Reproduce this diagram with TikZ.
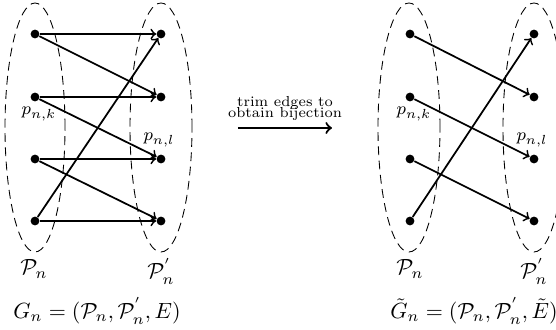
\documentclass[tikz,border=0pt]{standalone}
\usetikzlibrary{positioning}

\begin{document}
\begin{tikzpicture}[
  x=0.455pt, y=0.455pt,
  vx/.style={circle, fill=black, inner sep=0pt, minimum size=4pt},
  part/.style={draw, thin, dash pattern=on 4pt off 2.5pt},
  ed/.style={->, thick},
]
\useasboundingbox (0,0) rectangle (556,330);
% ---- LEFT: G_n with all edges ----
\draw[part] (35,202.5) ellipse [x radius=30, y radius=124.5];
\draw[part] (161,202.5) ellipse [x radius=31, y radius=124.5];
\node[vx] (a1) at (35,296) {};
\node[vx] (a2) at (35,233) {};
\node[vx] (a3) at (35,171) {};
\node[vx] (a4) at (35,109) {};
\node[vx] (b1) at (161,296) {};
\node[vx] (b2) at (161,233) {};
\node[vx] (b3) at (161,171) {};
\node[vx] (b4) at (161,109) {};
\draw[ed] (a1)--(b1); \draw[ed] (a1)--(b2);
\draw[ed] (a2)--(b2); \draw[ed] (a2)--(b3);
\draw[ed] (a3)--(b3); \draw[ed] (a3)--(b4);
\draw[ed] (a4)--(b4); \draw[ed] (a4)--(b1);
\node[font=\footnotesize] (ak) at (39,216) {$p_{n,k}$};
\node[font=\footnotesize] (bl) at (159,190) {$p_{n,l}$};
\node (pa) at (34,61) {$\mathcal{P}_n$};
\node (pb) at (161,59) {$\mathcal{P}_n^{'}$};
\node (ga) at (97,19) {$G_n=(\mathcal{P}_n,\mathcal{P}_n^{'},E)$};

% ---- MIDDLE: trimming step ----
\coordinate (ms) at (238,202);
\coordinate (me) at (332,202);
\draw[->, line width=1pt] (ms) -- node[font=\fontsize{6.6}{7.5}\selectfont, align=center, above=2pt, inner sep=1pt] (mt)
  {trim edges to\\[-2.5pt] obtain bijection} (me);

% ---- RIGHT: trimmed G_n ----
\draw[part] (409,202.5) ellipse [x radius=31, y radius=124.5];
\draw[part] (534,202.5) ellipse [x radius=31, y radius=124.5];
\node[vx] (c1) at (410,296) {};
\node[vx] (c2) at (410,233) {};
\node[vx] (c3) at (410,171) {};
\node[vx] (c4) at (410,109) {};
\node[vx] (d1) at (534,296) {};
\node[vx] (d2) at (534,233) {};
\node[vx] (d3) at (534,171) {};
\node[vx] (d4) at (534,109) {};
\draw[ed] (c1)--(d2); \draw[ed] (c2)--(d3);
\draw[ed] (c3)--(d4); \draw[ed] (c4)--(d1);
\node[font=\footnotesize] (ck) at (414,216) {$p_{n,k}$};
\node[font=\footnotesize] (dl) at (532,190) {$p_{n,l}$};
\node (pc) at (410,61) {$\mathcal{P}_n$};
\node (pd) at (534,59) {$\mathcal{P}_n^{'}$};
\node (gc) at (474,19) {$\tilde{G}_n=(\mathcal{P}_n,\mathcal{P}_n^{'},\tilde{E})$};
\end{tikzpicture}
\end{document}
